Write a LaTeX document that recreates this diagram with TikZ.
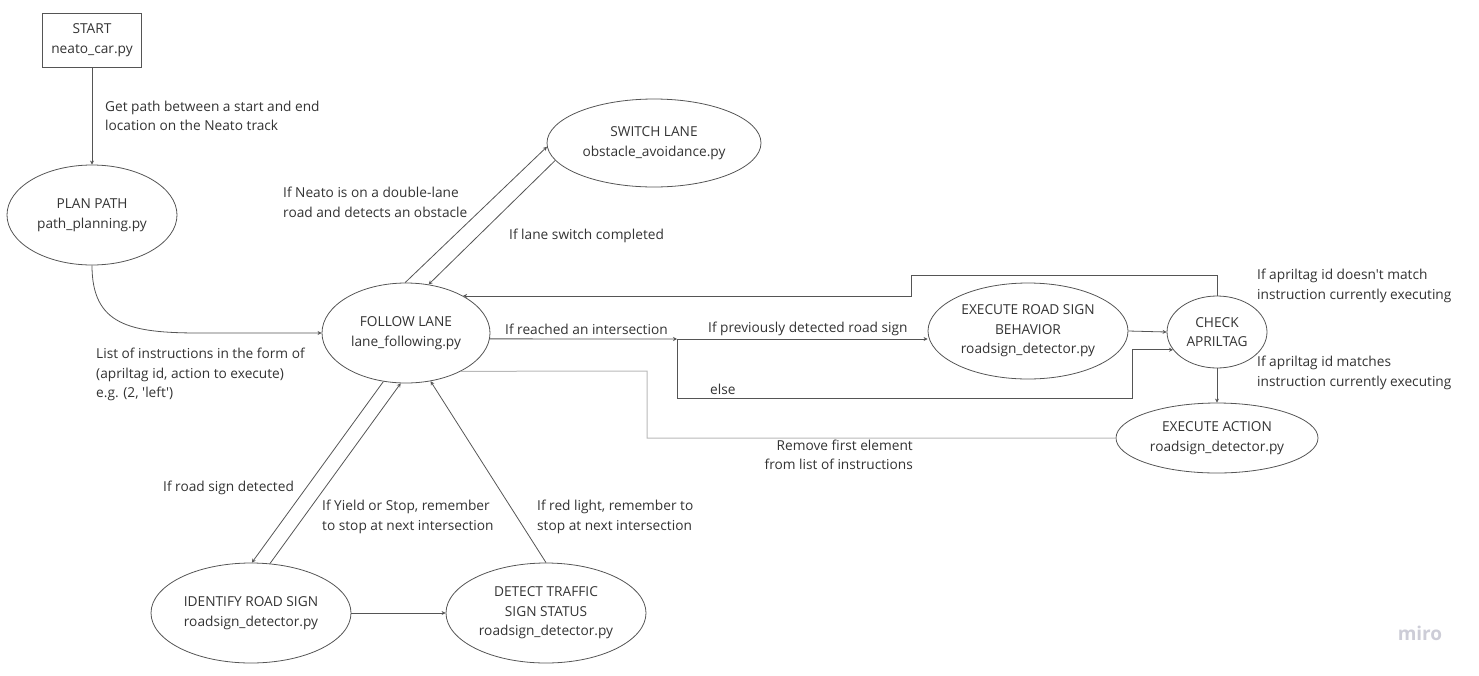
\documentclass[tikz,border=0pt]{standalone}
\usepackage{fontspec}
\setmainfont{Open Sans}[Ligatures=TeXOff]
\usetikzlibrary{shapes.geometric,arrows.meta}
\definecolor{ink}{RGB}{51,51,51}
\definecolor{wire}{RGB}{85,85,85}
\definecolor{softwire}{RGB}{185,185,185}
\definecolor{mark}{RGB}{205,205,215}
\begin{document}
\begin{tikzpicture}[x=1pt,y=-1pt,
  every node/.style={font=\fontsize{13.7}{19.5}\selectfont,text=ink,inner sep=0pt},
  state/.style={draw=wire,line width=0.8pt,ellipse,align=center},
  startbox/.style={draw=wire,line width=0.8pt,rectangle,align=center,minimum width=99pt,minimum height=54pt},
  lbl/.style={align=left,anchor=west},
  link/.style={draw=wire,line width=0.8pt,-{Stealth[length=4pt,width=4pt]}},
  softlink/.style={draw=softwire,line width=1pt}]
\useasboundingbox (0,0) rectangle (1479,675);

% states
\node[startbox] (start) at (92,40) {START\\neato\_car.py};
\node[state,minimum width=170pt,minimum height=100pt] (pp) at (92,215) {PLAN PATH\\path\_planning.py};
\node[state,minimum width=214pt,minimum height=88pt] (sl) at (654,143) {SWITCH LANE\\obstacle\_avoidance.py};
\node[state,minimum width=168pt,minimum height=100pt] (fl) at (406,333) {FOLLOW LANE\\lane\_following.py};
\node[state,minimum width=200pt,minimum height=96pt] (ers) at (1028,331) {EXECUTE ROAD SIGN\\BEHAVIOR\\roadsign\_detector.py};
\node[state,minimum width=100pt,minimum height=72pt] (ca) at (1217,332) {CHECK\\APRILTAG};
\node[state,minimum width=202pt,minimum height=70pt] (ea) at (1217,438) {EXECUTE ACTION\\roadsign\_detector.py};
\node[state,minimum width=200pt,minimum height=100pt] (irs) at (251,613) {IDENTIFY ROAD SIGN\\roadsign\_detector.py};
\node[state,minimum width=200pt,minimum height=100pt] (dts) at (546,613) {DETECT TRAFFIC\\SIGN STATUS\\roadsign\_detector.py};

% routing points
\coordinate (bend) at (200,333);
\coordinate (j) at (677,339);
\coordinate (elsecorner) at (1132,398);
\coordinate (topcorner) at (911,275);
\coordinate (softcorner) at (647,371);

% connectors
\draw[link] (start.south) -- (pp.north);
\draw[link] (pp.south) .. controls +(0,60) and +(-70,0) .. (bend) -- (fl.west);
\draw[link] (fl.91) -- (sl.182.7);
\draw[link] (sl.190.4) -- (fl.65.8);
\draw[link] (fl.356) -- (j);
\draw[link] (j) -- (j -| ers.west);
\draw[link] (j) |- (elsecorner) |- (ca.202.6);
\draw[link] (ers.east) -- (ca.west);
\draw[link] (ca.north) |- (topcorner) |- (fl.33.2);
\draw[link] (ca.south) -- (ea.north);
\draw[softlink] (ea.west) -| (softcorner) -- (fl.325.2);
\draw[link] (fl.245.3) -- (irs.89);
\draw[link] (irs.69.2) -- (fl.264.5);
\draw[link] (dts.north) -- (fl.297.9);
\draw[link] (irs.east) -- (dts.west);

% connector labels
\node[lbl] (tget) at (105,116) {Get path between a start and end\\location on the Neato track};
\node[lbl] (tlist) at (96,374.5) {List of instructions in the form of\\(apriltag id, action to execute)\\e.g. (2, 'left')};
\node[lbl] (tdbl) at (283,202.5) {If Neato is on a double-lane\\road and detects an obstacle};
\node[lbl] (tdone) at (509,236) {If lane switch completed};
\node[lbl] (treach) at (505,329) {If reached an intersection};
\node[lbl] (tprev) at (708,329) {If previously detected road sign};
\node[lbl] (telse) at (710,389) {else};
\node[align=right,anchor=east] (tremove) at (913,455) {Remove first element\\from list of instructions};
\node[lbl] (tnomatch) at (1257,286) {If apriltag id doesn't match\\instruction currently executing};
\node[lbl] (tmatch) at (1257,373) {If apriltag id matches\\instruction currently executing};
\node[lbl] (tsign) at (163,488) {If road sign detected};
\node[lbl] (tyield) at (322,517) {If Yield or Stop, remember\\to stop at next intersection};
\node[lbl] (tred) at (537,517) {If red light, remember to\\stop at next intersection};

% watermark
\node[font=\fontsize{19}{22}\selectfont\bfseries,text=mark] (miro) at (1420,633) {miro};
\end{tikzpicture}
\end{document}
